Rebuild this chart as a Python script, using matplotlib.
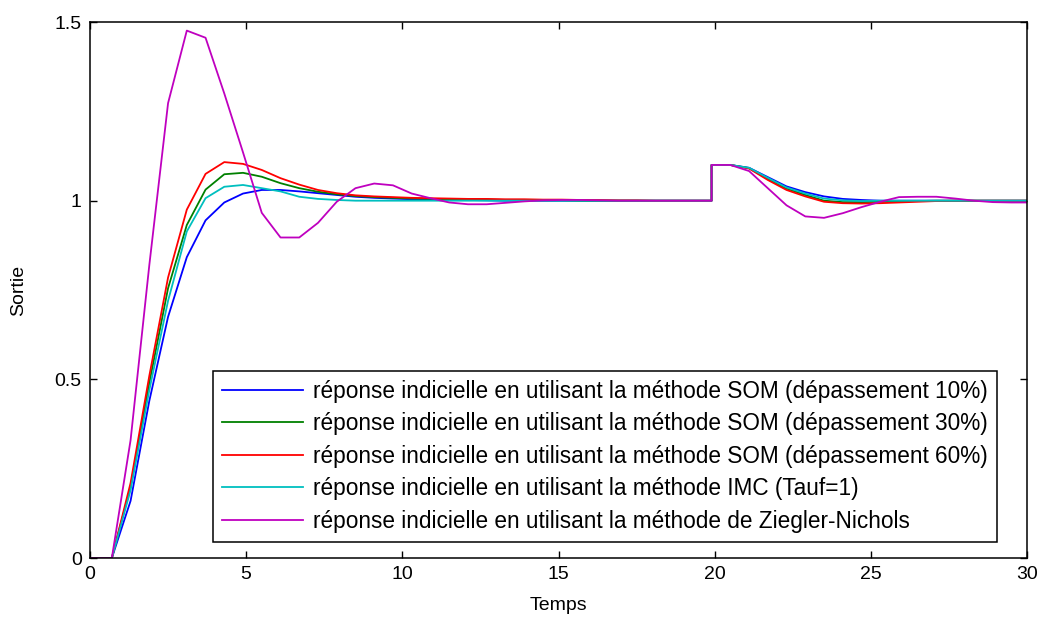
import matplotlib
matplotlib.use("Agg")
import matplotlib.pyplot as plt

plt.rcParams["font.family"] = ["Liberation Sans", "DejaVu Sans"]

# sample times (the step disturbance at t=19.9 is stored twice)
temps = [0, 0.7, 1.3, 1.9, 2.5, 3.1, 3.7, 4.3, 4.9, 5.5,
         6.1, 6.7, 7.3, 7.9, 8.5, 9.1, 9.7, 10.3, 10.9, 11.5,
         12.1, 12.7, 13.3, 13.9, 14.5, 15.1, 15.7, 16.3, 16.9, 17.5,
         18.1, 18.7, 19.3, 19.9, 19.9, 20.5, 21.1, 21.7, 22.3, 22.9,
         23.5, 24.1, 24.7, 25.3, 25.9, 26.5, 27.1, 27.7, 28.3, 28.9,
         29.5, 30.1]

som_10 = [0, 0, 0.16, 0.44, 0.675, 0.842, 0.945, 0.995, 1.02, 1.03,
          1.03, 1.026, 1.021, 1.016, 1.011, 1.008, 1.006, 1.004, 1.003, 1.002,
          1.002, 1.001, 1.0, 1.0, 1.0, 1.0, 1.0, 1.0, 1.0, 1.0,
          1.0, 1.0, 1.0, 1.0, 1.1, 1.1, 1.092, 1.066, 1.04, 1.024,
          1.012, 1.005, 1.002, 1.0, 1.0, 1.0, 1.0, 1.0, 1.0, 1.0,
          1.0, 1.0]

som_30 = [0, 0, 0.2, 0.49, 0.755, 0.932, 1.031, 1.074, 1.078, 1.067,
          1.049, 1.035, 1.025, 1.018, 1.013, 1.01, 1.008, 1.006, 1.005, 1.004,
          1.003, 1.003, 1.002, 1.002, 1.001, 1.001, 1.0, 1.0, 1.0, 1.0,
          1.0, 1.0, 1.0, 1.0, 1.1, 1.1, 1.091, 1.061, 1.034, 1.016,
          1.0, 0.996, 0.996, 0.997, 0.998, 0.999, 1.0, 1.0, 1.0, 1.0,
          1.0, 1.0]

som_60 = [0, 0, 0.21, 0.51, 0.785, 0.975, 1.075, 1.108, 1.103, 1.086,
          1.063, 1.045, 1.03, 1.021, 1.015, 1.012, 1.01, 1.008, 1.007, 1.006,
          1.005, 1.005, 1.004, 1.004, 1.003, 1.003, 1.002, 1.002, 1.001, 1.001,
          1.0, 1.0, 1.0, 1.0, 1.1, 1.1, 1.09, 1.058, 1.03, 1.012,
          0.997, 0.993, 0.992, 0.993, 0.995, 0.997, 0.999, 1.0, 1.0, 1.0,
          1.0, 1.0]

imc = [0, 0, 0.19, 0.47, 0.72, 0.914, 1.007, 1.039, 1.044, 1.035,
       1.026, 1.011, 1.005, 1.002, 1.0, 1.0, 1.0, 1.0, 1.0, 1.0,
       1.0, 1.0, 1.0, 1.0, 1.0, 1.0, 1.0, 1.0, 1.0, 1.0,
       1.0, 1.0, 1.0, 1.0, 1.1, 1.1, 1.092, 1.064, 1.037, 1.02,
       1.006, 1.001, 0.999, 1.0, 1.0, 1.0, 1.0, 1.0, 1.0, 1.0,
       1.0, 1.0]

ziegler = [0, 0, 0.33, 0.82, 1.273, 1.476, 1.456, 1.30, 1.135, 0.966,
           0.897, 0.897, 0.938, 0.997, 1.035, 1.048, 1.043, 1.02, 1.007, 0.995,
           0.99, 0.99, 0.994, 0.998, 1.001, 1.002, 1.002, 1.001, 1.0, 1.0,
           1.0, 1.0, 1.0, 1.0, 1.1, 1.1, 1.083, 1.035, 0.987, 0.956,
           0.952, 0.965, 0.982, 0.997, 1.01, 1.011, 1.011, 1.006, 1.0, 0.996,
           0.995, 0.995]

series = [
    (som_10, "#0000ff", "réponse indicielle en utilisant la méthode SOM (dépassement 10%)"),
    (som_30, "#008000", "réponse indicielle en utilisant la méthode SOM (dépassement 30%)"),
    (som_60, "#ff0000", "réponse indicielle en utilisant la méthode SOM (dépassement 60%)"),
    (imc, "#00bfbf", "réponse indicielle en utilisant la méthode IMC (Tauf=1)"),
    (ziegler, "#bf00bf", "réponse indicielle en utilisant la méthode de Ziegler-Nichols"),
]

xticks = [0, 5, 10, 15, 20, 25, 30]
yticks = [0, 0.5, 1, 1.5]
ytick_labels = ["0", "0.5", "1", "1.5"]

fig = plt.figure(figsize=(10.39, 6.17), dpi=100)
ax = fig.add_axes([0.0866, 0.0956, 0.9019, 0.8687])

for values, color, label in series:
    ax.plot(temps, values, color=color, linewidth=1.3, label=label)

ax.set_xlim(0, 30)
ax.set_ylim(0, 1.5)
ax.set_xticks(xticks)
ax.set_xticklabels([str(v) for v in xticks])
ax.set_yticks(yticks)
ax.set_yticklabels(ytick_labels)
ax.tick_params(direction="in", length=5, width=1, top=True, right=True,
               labelsize=14, pad=6)
for spine in ax.spines.values():
    spine.set_linewidth(1.1)

ax.set_xlabel("Temps", fontsize=14, labelpad=10)
ax.set_ylabel("Sortie", fontsize=14, labelpad=20)

leg = ax.legend(loc="lower right", bbox_to_anchor=(0.968, 0.030),
                borderaxespad=0, fontsize=16.3, handlelength=3.6,
                handletextpad=0.44, labelspacing=0.42, borderpad=0.4,
                fancybox=False, framealpha=1, edgecolor="black")
leg.get_frame().set_linewidth(1.1)

fig.savefig("out.png", dpi=100)
